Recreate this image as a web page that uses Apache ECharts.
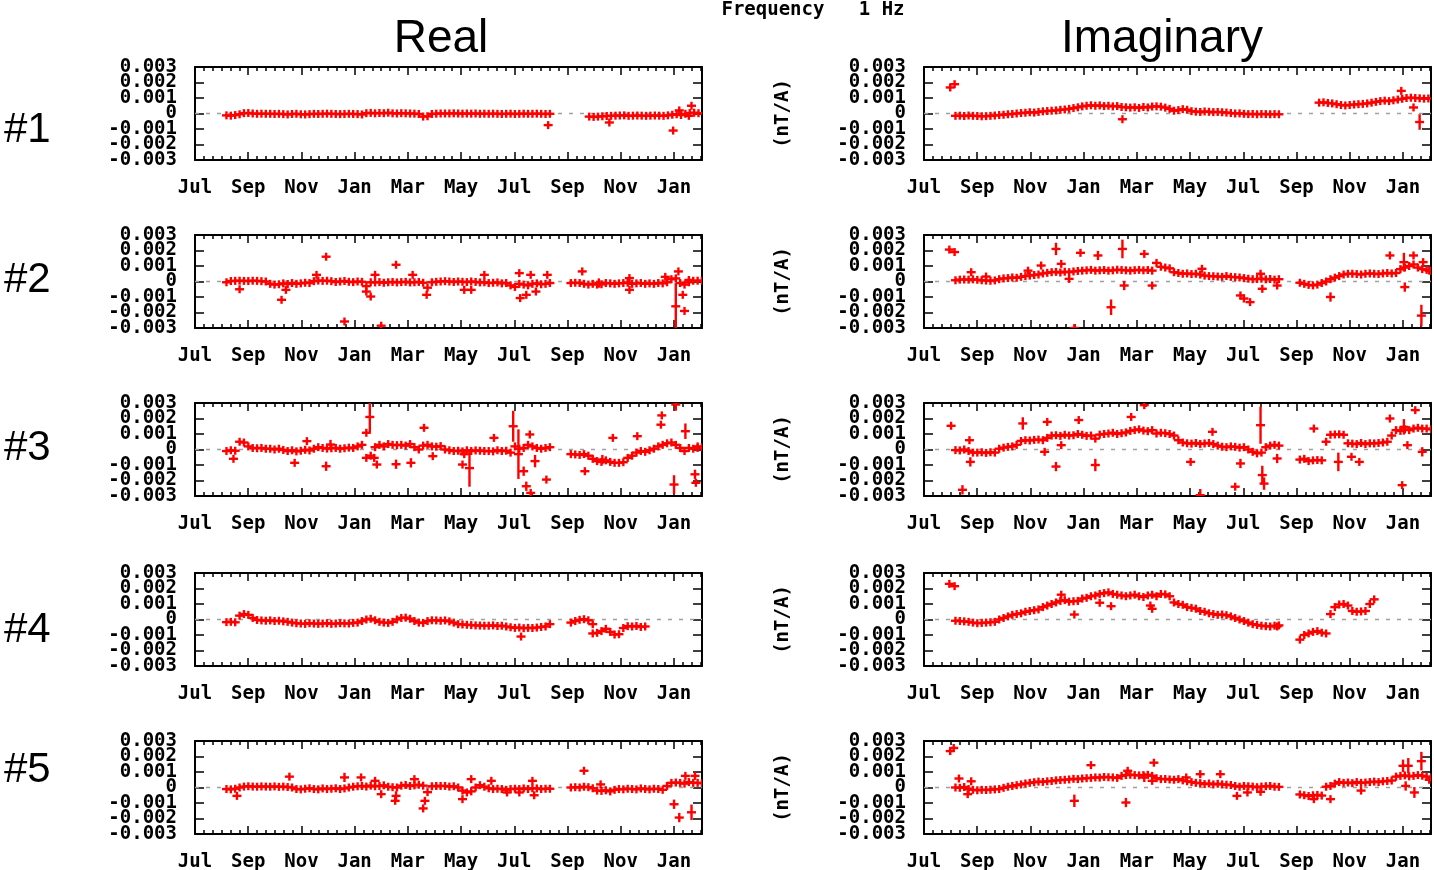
<!DOCTYPE html>
<html>
<head>
<meta charset="utf-8">
<script src="https://cdn.jsdelivr.net/npm/echarts@6/dist/echarts.min.js"></script>
<style>
html,body{margin:0;padding:0;background:#fff}
#chart{width:1434px;height:870px}
</style>
</head>
<body>
<div id="chart"></div>
<script>
// Transfer function estimates at 1 Hz, real and imaginary parts, five stations.
// Values are in units of 1e-4 nT/A; x is days since 1 July.
const UNIT = 1e-4;
const STEP = 5;          // spacing of the daily-average series, days
const SEG_A_START = 36;  // first day of the first campaign

const months = ['Jul', 'Sep', 'Nov', 'Jan', 'Mar', 'May', 'Jul', 'Sep', 'Nov', 'Jan'];
const rowLabels = ['#1', '#2', '#3', '#4', '#5'];
const colTitles = ['Real', 'Imaginary'];

// ---- #1 ----
const r1A = [
  -1.2,-1.4,-1.0,-0.5,0.2,0.3,0,-0.2,-0.1,-0.2,
  -0.2,-0.3,-0.2,-0.4,-0.6,-0.3,-0.2,-0.5,-0.6,-0.4,
  -0.2,-0.3,-0.2,-0.1,-0.2,-0.3,-0.4,-0.3,-0.2,-0.3,
  -0.4,-0.6,0.2,0.4,0.1,0.3,0.2,0.5,0.1,0,
  0.2,0.1,0,-0.1,-0.3,-2,-1.8,-0.3,-0.1,0,
  0,0,0.1,0,-0.1,0,-0.1,0,-0.2,-0.1,
  -0.2,-0.1,-0.2,-0.3,-0.2,-0.1,-0.3,-0.2,-0.1,-0.2,
  -0.2,-0.1,-0.2,-0.3,-0.2
];
const r1BStart = 451;
const r1B = [-2,-2.2,-2,-1.8,-1.6,-1.5,-1.4,-1.3,-1.2,-1.5,-1.4,-1.3,-1.4,-1.5,-1.4,-1.3,-1.4,-1.5,-1.2,-0.8,-0.5,-1,-0.2,0.3,0.5,0.2];
const r1Out = [[404,-7.5,0.5],[474,-5.8,0.6],[547,-11,1.2],[568,5,1.5],[554,2,1],[565,-1.5,1]];

const i1A = [
  -1.5,-1.4,-1.6,-1.3,-1.5,-1.6,-1.8,-1.7,-1.5,-1.3,
  -1.0,-0.8,-0.5,-0.3,0,0.3,0.5,0.8,0.6,1.0,
  1.4,1.6,1.8,2.0,2.4,2.6,3.0,3.5,4.0,4.6,
  5.0,5.3,5.0,5.2,4.8,5.0,4.6,4.8,4.2,4.0,
  3.8,4.0,3.6,4.2,3.9,4.5,4.6,4.4,3.8,3.0,
  1.8,2.2,2.8,2.4,1.5,1.2,1.0,1.3,1.1,0.9,
  1.0,0.8,0.6,0.3,0.0,0.1,-0.2,-0.4,-0.3,-0.5,
  -0.3,-0.4,-0.5,-0.4,-0.5
];
const i1BStart = 452;
const i1B = [7.0,7.2,6.8,6.5,6.0,5.5,5.2,5.5,5.8,6.0,6.2,6.5,7.0,7.5,8.0,8.3,8.0,8.5,9.0,9.5,10,10.2,10,9.8,9.6,9.7];
const i1Out = [[30,16.8,0.6],[35,18.9,0.6],[227,-3.7,1.2],[546,14.6,1.2],[560,3.9,1],[567,-5.5,5]];

// ---- #2 ----
const r2A = [
  -0.5,0.3,0.4,0.5,0.4,0.3,0.5,0.4,0.2,0,
  -1.5,-2,-1.8,-1.2,-1.6,-1,-1.5,-1.2,-0.8,-1,
  0.2,0.6,0.4,0.5,0.2,-0.3,0,0.3,-0.2,-0.4,
  0,-0.2,-3,-0.5,-0.6,-0.4,-0.8,-0.5,-0.3,-0.6,
  -0.4,-0.2,-0.6,-0.5,-0.3,-0.8,-4,-0.5,-0.2,0,
  0.2,0,-0.3,0,-0.2,-0.4,0,-0.3,-0.6,-0.5,
  -1,-0.8,-0.6,-1.2,-1,-2.5,-3.5,-1.5,-2,-2.5,
  -1.5,-1.2,-1.8,-1.5,-1
];
const r2BStart = 430;
const r2B = [-1,-0.8,-1,-1.5,-2,-1.5,-2,-1.8,-1,-1.2,-1.5,-1.2,-1,-0.8,-1.5,-1.2,-1,-1.5,-1.2,-1.5,-1,-1.2,-0.5,1.5,2,-1,-2,-0.5,0.5,0.5,0.5];
const r2Out = [[51,-5,1],[99,-11.8,0.6],[104,-5.4,0.8],[139,4.3,1],[150,16,2.5],[171,-25.8,2],[196,-6.5,1],[201,-9.7,1],
  [206,4.3,1],[213,-28.5,2.5],[230,10.8,2.5],[249,4.3,1],[265,-8.6,2],[308,-5.4,0.8],[316,-5.4,1.5],[331,4.3,1],
  [371,5.4,1.5],[372,-10.7,2],[379,-8.6,1],[384,4.3,1],[390,-6.5,1],[403,4.3,1],[443,6.5,1.5],[462,-1,3],
  [497,2.2,1],[497,-5.4,1],[538,3,1.5],[550,-16,15],[553,6.5,2],[558,-8.6,1.5],[560,-19,2],[565,1,1]];

const i2A = [
  0.8,1.2,1.3,1.2,1.4,1.1,0.8,0.6,0.5,0.7,
  1.5,2,2.2,2.6,2.4,3,3.5,3.8,4.2,4.5,
  5.2,5.6,6,6.2,5.8,6.3,6,6.5,6.8,7,
  7.2,7.5,7,7.2,7.4,7,7.2,7.6,7.4,7.2,
  7,7.3,7.5,7.2,7.4,7,12,9.5,9,8.5,
  6,5.5,5,5.2,4.8,5,4.5,3.8,3.5,3.4,
  3.2,3,3.5,3,2.8,2.6,2.2,1.8,1.5,1.6,
  1.8,1.4,1.6,1.2,1.5
];
const i2BStart = 430;
const i2B = [-0.8,-1.5,-2.2,-2.5,-2,-1,0,1.5,2.5,3.5,4.5,5,5,4.8,4.5,5,5.2,5,4.8,5.2,5.5,5.2,5.5,8,9,10,11,9,8,7.5,7];
const i2Out = [[29,20.6,0.6],[35,19,0.6],[54,6,1],[71,3.2,1],[119,7,1],[134,10.3,1.2],[151,21,4],[157,11.4,1.5],
  [166,1.7,1],[172,-30,2],[179,18.5,2],[199,16.8,3],[214,-16.6,5],[227,21,6],[229,-2.6,3],[252,17.8,2],
  [261,-2.6,2],[318,8.2,1],[362,-9,1.5],[366,-11,2],[373,-13.3,2],[385,5,2],[387,-4.7,2],[404,-2.6,1],
  [465,-10,3],[533,16.8,2.5],[549,12.5,6],[550,-3.6,3],[560,16.8,2],[569,-22,7],[571,12.5,1],[578,7,1]];

// ---- #3 ----
const r3A = [
  -1,-0.5,-0.8,5,4.5,2,1,0.8,1,0.5,
  0.5,0,0.5,-0.3,-1,-0.5,-1.2,-0.8,-0.2,-0.6,
  0.5,1.5,1,0.6,0.8,1,0.5,0.8,1.2,1,
  2,3,-5.4,-4,1.5,3,2,3.5,3,2.8,
  3,2.5,3.5,1.5,0,2.5,3,2,1.8,2.2,
  0,-0.5,-1,-0.8,-1.2,-0.5,-1,-0.6,-0.8,-1,
  -1,-1.2,-0.5,-1,-0.8,-2,2,0.5,1,3,
  2,1,0.5,1,1.5
];
const r3BStart = 430;
const r3B = [-3,-3.2,-3.5,-3,-4,-6,-7.5,-8,-7,-8,-8.6,-8.6,-8.2,-5.4,-4,-2,-1,-1.5,-0.5,0.5,2,3,4,4.5,3,1,-1,1,0.5,1,1.5];
const r3Out = [[44,-6,1.5],[114,-8.6,2],[128,5.4,1.5],[150,-10.8,3],[155,3.2,3],[196,10.8,1.5],[200,21,10],[205,-5.4,1],
  [208,-9.7,1.5],[230,-9.5,3],[247,-8.6,3],[262,14,1.5],[272,-4.3,0.8],[306,-9.7,1.5],[308,-3,2],[314,-12,12],
  [342,7.5,1],[364,15,10],[370,-3,16],[376,-14,3],[379,-23.7,3],[383,9.7,1.5],[384,-28,2],[389,-7.5,4],
  [402,-19.4,2],[446,-14,2],[466,-6.5,3],[478,7.5,1.5],[506,8.6,1],[533,16,1.5],[534,22,2],[548,-22.6,6],
  [550,29,4],[561,11.8,5],[572,-16,3],[573,-21.5,2],[575,2,1]];

const i3A = [
  -0.4,-0.6,0,-1,-2,-2,-1.8,-2.2,-1.8,-2,
  0.5,1.2,1.7,2,3,5.5,6,5.8,6.2,6.4,
  6,7.5,9,9.2,8.8,9.5,9,9.2,10,9.5,
  8.8,9,7,9.6,10,10.3,10.8,10,10.5,11,
  12,12.5,13,12.2,11.8,12.5,10.3,10.8,10.5,10,
  9,6,4.5,4,3.8,4.2,3.6,3.9,4.2,3.5,
  2.5,1.8,1.5,2,1.7,1.2,1.5,0,-1.5,-2.5,
  -2,1.5,2.5,3,2.5
];
const i3BStart = 430;
const i3B = [-6.5,-6,-7.5,-7,-6.8,-7,5,9.5,9.7,9.8,9.5,4,3.8,3.5,4.2,3.5,4,3.9,4.2,4.5,5,9,12.5,12,13,12.5,13.5,14,13.5,13.5,13];
const i3Out = [[31,15.3,0.6],[44,-26,3],[52,6,1.5],[53,-8,3],[113,16.8,4],[138,-1.5,1],[141,17.8,2.5],[151,-11,3],
  [157,2.8,1],[177,19,2],[196,-10,4],[237,21,2.5],[252,28.6,2],[305,-8,1.5],[316,-29.5,4],[330,11.4,2],
  [356,-24,2],[362,-9,3],[385,15.7,12],[387,-16.5,6],[389,-22,4],[404,-5.8,3],[446,13.5,2.5],[474,-8,6],
  [489,-4.7,1],[498,-8,2],[533,20,2],[547,-23,2],[549,14.6,5],[553,2.8,2],[562,25.4,0.8],[570,-1.5,3]];

// ---- #4 ----
const r4A = [
  -1.7,-1.5,-1.8,2.5,3.5,3,1,-0.3,-0.6,-0.8,
  -0.6,-1,-0.8,-1.2,-1.5,-2,-2.4,-2.6,-2.8,-2.4,
  -2.6,-2.8,-2.6,-2.4,-2.8,-2.6,-2.4,-2.5,-2.6,-2.2,
  -2,-1,0,0.5,-0.5,-1.5,-2,-2.2,-1.5,0,
  1,1.2,0.5,-1,-2,-2.2,-1,-0.5,-0.6,-0.8,
  -0.6,-1.2,-2,-3,-3.2,-3.4,-3.6,-3.8,-3.9,-4,
  -4,-3.8,-4.2,-4,-4.5,-5,-5.4,-5.2,-5.6,-5.4,
  -5.5,-5.2,-4.8,-4.5,-3
];
const r4BStart = 430;
const r4B = [-2,-1,-0.2,0.2,-0.5,-3,-8.6,-7.5,-6,-8,-9.7,-9.5,-5.5,-4.3,-4.5,-4.2,-4.8,-4.5];
const r4Out = [[373,-11,0.6],[455,-9,0.8]];

const i4A = [
  -0.8,-1,-1.2,-1.5,-2,-2.4,-2.2,-2,-1.8,-1.5,
  0,1,2,3,3.5,4,5,5.5,6,6.5,
  8,9,10,11,12,12.5,11.5,11.8,12,13.5,
  14,15,15.5,16.5,17,17.5,16.5,16,15.5,15,
  15.5,16,15,14.5,15.5,16,15,16.5,16.2,15,
  11,10,9.5,8,7.5,7,5.5,5,4,3.5,
  3,3.2,2.8,2,1,0,-1,-2,-3,-3.5,
  -4,-4.3,-4.5,-4,-3.8
];
const i4BStart = 430;
const i4B = [-13,-10,-9,-8,-7.5,-8.5,-9,3.5,8,9.7,10,9,5.5,5,5.2,5.5,10,13];
const i4Out = [[29,23,0.6],[35,21.5,0.6],[157,16,1],[172,3.2,1.5],[201,10.8,0.8],[214,8.6,0.8],[259,9,0.8],[261,6.9,0.8],[404,-4.5,1]];

// ---- #5 ----
const r5A = [
  -1,-1.2,-0.8,0,0.6,0.8,0.6,0.5,0.7,0.6,
  0.5,0.7,0.4,0.6,0.3,0,-1,-1.2,-0.8,-0.5,
  -1,-1.2,-0.6,-1,-0.8,-0.5,-1,-0.6,0,0.5,
  0.8,1,0.6,1.2,0.8,1,1.4,0.5,0.2,0,
  1.2,1.6,1,1.4,1.8,1.2,-3,0.8,1,1,
  1,0.6,0.8,0,-2,-3.2,-2.5,0,1.5,0.5,
  -0.5,-1,-0.8,-1,-1.5,-1,-0.8,-1,-0.6,-1,
  -0.5,-0.6,-1,-0.8,-0.8
];
const r5BStart = 430;
const r5B = [0,0.2,0,0.5,0.2,-0.5,-2,-2.2,-1.8,-2.5,-1.5,-1,-1.2,-0.8,-1,-1.2,-0.6,-1,-1.2,-0.8,-1,-1.5,1,3,3.2,3,2.5,3.5,3,3,2.8];
const r5Out = [[48,-5.4,1],[108,7,1.5],[171,6.5,3],[190,6.5,1.5],[206,4.3,1],[213,-4.3,1],[229,-8.6,1],[230,-5.4,3],
  [251,5.4,2],[261,-13.5,2],[263,-8.6,1.5],[306,-7.5,1],[316,5.4,1],[339,4.3,1],[357,-3.2,1],[371,-3.2,1.5],
  [386,4.3,1],[388,-5,0.8],[445,10.8,2],[464,2,2],[548,-10.8,3],[554,-19.4,3],[561,7.5,2],[568,-16,5],[572,7.5,2]];

const i5A = [
  0,-0.2,0.3,-1,-1.5,-1.8,-1.5,-1.6,-1.4,-1.2,
  -1,-0.2,0.5,1,1.5,2,2.6,3,3.4,3.8,
  3.6,4,4.2,4.6,4.8,5,5.2,5.6,5.4,5.8,
  6,6.2,6.5,6.4,6.8,6.6,6.5,6.2,7.5,8,
  8.2,8,7.8,8,8.2,7.5,6,5.4,5.5,5.2,
  5,5.4,4.6,4,3.5,3,2.8,2.2,2.6,2,
  2.4,2,1.8,1.6,1,0.5,1,0.8,0.6,0.2,
  0.6,0.8,1,0.5,0.4
];
const i5BStart = 430;
const i5B = [-4.5,-5,-5.5,-5,-4.8,-5.2,0.5,1,2.5,3.5,3,3.2,2.8,3.5,3,3.2,3.5,3.8,3.5,4,4.2,4.5,7,7.5,7.8,7.2,7.5,8,7.6,7,6.5];
const i5Out = [[30,23.5,0.6],[34,25.5,0.6],[40,5.8,0.8],[50,-4.3,0.8],[54,4,0.8],[172,-8.6,4],[191,14.4,1.5],[231,-9.7,3],
  [233,10.8,1],[252,6.5,3],[261,4.3,2],[263,16,1.5],[300,6.5,1],[316,8.6,1.5],[339,8.6,1.5],[358,-5.4,1],
  [370,-3.2,2],[385,-2.8,1],[446,-7.5,1.5],[465,-7.5,2],[500,-2,1],[548,14,4],[551,1,3],[554,14,5],
  [561,-3.2,3.5],[569,17,6],[578,5,1]];

// panel order: row by row, real then imaginary
const panels = [
  [r1A, r1BStart, r1B, r1Out], [i1A, i1BStart, i1B, i1Out],
  [r2A, r2BStart, r2B, r2Out], [i2A, i2BStart, i2B, i2Out],
  [r3A, r3BStart, r3B, r3Out], [i3A, i3BStart, i3B, i3Out],
  [r4A, r4BStart, r4B, r4Out], [i4A, i4BStart, i4B, i4Out],
  [r5A, r5BStart, r5B, r5Out], [i5A, i5BStart, i5B, i5Out]
];

// ---- layout ----
const X_MAX = 580;
const MAJOR = 60.875;        // two months
const MINOR = MAJOR / 6;
const Y_LIM = 0.003;
const colLeft = [195, 924];
const rowTop = [67, 235, 403, 573, 741];
const GRID_W = 507, GRID_H = 93;
const TICK_FONT = 'DejaVu Sans Mono';
const RED = '#ff0000';
const Y_AXES_PER_GRID = 3;

function buildPoints(p) {
  const [aVals, bStart, bVals, outs] = p;
  const pts = [];
  aVals.forEach((v, k) => pts.push([SEG_A_START + k * STEP, v * UNIT, 0]));
  bVals.forEach((v, k) => pts.push([bStart + k * STEP, v * UNIT, 0]));
  outs.forEach(o => pts.push([o[0], o[1] * UNIT, o[2] * UNIT]));
  return pts;
}

function monthLabel(v) {
  const k = v / MAJOR;
  const i = Math.round(k);
  return (Math.abs(k - i) < 1e-6 && i < months.length) ? months[i] : '';
}
// The tick labels are taller than their spacing, so odd and even thousandths
// are written by two coincident axes; each one alone has no colliding labels.
function yLabelOdd(v) {
  const r = Math.round(v * 1000);
  return Math.abs(r) % 2 === 1 ? (r / 1000).toFixed(3) : '';
}
function yLabelEven(v) {
  const r = Math.round(v * 1000);
  if (Math.abs(r) % 2 === 1) return '';
  return r === 0 ? '0' : (r / 1000).toFixed(3);
}

// each estimate: a short horizontal bar and a vertical error bar
function renderPlus(params, api) {
  const x = api.value(0), y = api.value(1), e = api.value(2);
  const c = api.coord([x, y]);
  const hi = api.coord([x, y + e]);
  const lo = api.coord([x, y - e]);
  const top = Math.min(hi[1], c[1] - 4);
  const bot = Math.max(lo[1], c[1] + 4);
  const st = { stroke: RED, lineWidth: 2.4 };
  return {
    type: 'group',
    children: [
      { type: 'line', shape: { x1: c[0] - 4.5, y1: c[1], x2: c[0] + 4.5, y2: c[1] }, style: st },
      { type: 'line', shape: { x1: c[0], y1: top, x2: c[0], y2: bot }, style: st }
    ]
  };
}

const grids = [], xAxes = [], yAxes = [], series = [];
const frameLine = { show: true, onZero: false, lineStyle: { color: '#000', width: 2 } };
const tickStyle = { color: '#000', width: 1.5 };
const labelFont = { color: '#000', fontFamily: TICK_FONT, fontWeight: 'bold', fontSize: 19 };

panels.forEach((p, g) => {
  const row = Math.floor(g / 2), col = g % 2;
  grids.push({ left: colLeft[col], top: rowTop[row], width: GRID_W, height: GRID_H, outerBoundsMode: 'none', containLabel: false });

  const xBase = { type: 'value', gridIndex: g, min: 0, max: X_MAX, splitLine: { show: false } };
  xAxes.push(
    { ...xBase, position: 'bottom', interval: MAJOR, axisLine: frameLine,
      axisTick: { show: true, inside: true, length: 8, lineStyle: tickStyle },
      axisLabel: { show: true, margin: 19, formatter: monthLabel, ...labelFont,
                   showMinLabel: true, showMaxLabel: false, hideOverlap: false } },
    { ...xBase, position: 'bottom', interval: MINOR, axisLine: { show: false, onZero: false },
      axisTick: { show: true, inside: true, length: 4, lineStyle: tickStyle }, axisLabel: { show: false } },
    { ...xBase, position: 'top', interval: MAJOR, axisLine: frameLine,
      axisTick: { show: true, inside: true, length: 8, lineStyle: tickStyle }, axisLabel: { show: false } },
    { ...xBase, position: 'top', interval: MINOR, axisLine: { show: false, onZero: false },
      axisTick: { show: true, inside: true, length: 4, lineStyle: tickStyle }, axisLabel: { show: false } }
  );

  const yBase = { type: 'value', gridIndex: g, min: -Y_LIM, max: Y_LIM, interval: 0.001,
                  splitLine: { show: false } };
  const yLeft = { ...yBase, position: 'left', axisLine: frameLine,
    axisTick: { show: true, inside: true, length: 9, lineStyle: tickStyle },
    axisLabel: { show: true, margin: 18, formatter: yLabelOdd, ...labelFont,
                 showMinLabel: true, showMaxLabel: true, hideOverlap: false } };
  if (col === 1) {
    Object.assign(yLeft, {
      name: '(nT/A)', nameLocation: 'middle', nameGap: 131, nameRotate: 90,
      nameTextStyle: { ...labelFont }
    });
  }
  const yLeftEven = { ...yBase, position: 'left', axisLine: { show: false, onZero: false },
    axisTick: { show: false },
    axisLabel: { show: true, margin: 18, formatter: yLabelEven, ...labelFont,
                 showMinLabel: true, showMaxLabel: true, hideOverlap: false } };
  const yRight = { ...yBase, position: 'right', axisLine: frameLine,
    axisTick: { show: true, inside: true, length: 9, lineStyle: tickStyle }, axisLabel: { show: false } };
  yAxes.push(yLeft, yLeftEven, yRight);

  series.push(
    { type: 'line', xAxisIndex: g * 4, yAxisIndex: g * Y_AXES_PER_GRID, data: [[0, 0], [X_MAX, 0]],
      symbol: 'none', silent: true, z: 1,
      lineStyle: { color: '#a0a0a0', width: 1.5, type: [4, 7] } },
    { type: 'custom', xAxisIndex: g * 4, yAxisIndex: g * Y_AXES_PER_GRID, data: buildPoints(p),
      renderItem: renderPlus, clip: true, z: 2, silent: true }
  );
});

const graphics = [
  { type: 'text', x: 813, y: 10, style: { text: 'Frequency   1 Hz', fill: '#000',
    font: 'bold 19px "DejaVu Sans Mono"', align: 'center', verticalAlign: 'middle' } },
  { type: 'text', x: 441, y: 39, style: { text: colTitles[0], fill: '#000', font: '46px "Liberation Sans"',
    align: 'center', verticalAlign: 'middle' } },
  { type: 'text', x: 1162, y: 39, style: { text: colTitles[1], fill: '#000', font: '46px "Liberation Sans"',
    align: 'center', verticalAlign: 'middle' } }
];
const rowLabelY = [130, 280, 448, 630, 770];
rowLabels.forEach((t, i) => graphics.push({ type: 'text', x: 4, y: rowLabelY[i],
  style: { text: t, fill: '#000', font: '42px "Liberation Sans"', align: 'left', verticalAlign: 'middle' } }));

const chart = echarts.init(document.getElementById('chart'), null, { renderer: 'canvas' });
chart.setOption({
  animation: false,
  backgroundColor: '#fff',
  grid: grids,
  xAxis: xAxes,
  yAxis: yAxes,
  series: series,
  graphic: graphics
});
</script>
</body>
</html>
